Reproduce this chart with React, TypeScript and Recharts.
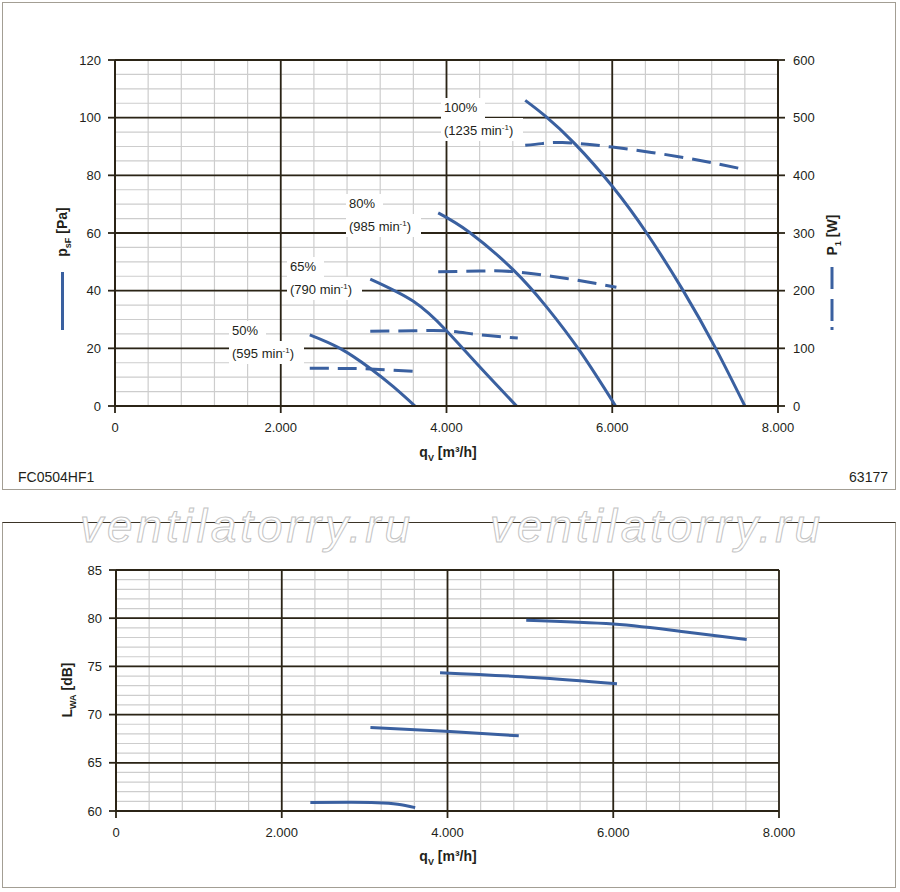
import React from "react";
import { ComposedChart, Line, XAxis, YAxis, ReferenceLine } from "recharts";

const FONT = "'Liberation Sans', Arial, Helvetica, sans-serif";
const CURVE = "#3a60a0";
const MAJOR = "#2b2416";
const MINOR = "#cdcdcd";
const TEXT = "#231f1a";

// x axis (volume flow, m³/h)
const FLOW_TICKS = [0, 2000, 4000, 6000, 8000];
const PRESSURE_TICKS = [0, 20, 40, 60, 80, 100, 120];
const POWER_TICKS = [0, 100, 200, 300, 400, 500, 600];
const SOUND_TICKS = [60, 65, 70, 75, 80, 85];

// static pressure psF [Pa]
const q100 = [4950, 5190, 5550, 6000, 6415, 6854, 7248, 7600];
const psf100 = [106, 100.6, 90.9, 76.2, 60, 40.1, 20, 0];
const q80 = [3900, 4280, 4806, 5209, 5611, 6040];
const psf80 = [67, 60.2, 47.2, 34.3, 19, 0];
const q65 = [3080, 3600, 4000, 4400, 4845];
const psf65 = [44, 36.3, 26.1, 13.6, 0];
const q50 = [2350, 2715, 3077, 3358, 3620];
const psf50 = [24.7, 20, 13.1, 6.7, 0];

// power input P1 [W]
const qp100 = [4950, 5150, 5400, 6000, 6900, 7600];
const p100 = [452, 455, 457, 449, 430, 410];
const qp80 = [3900, 4400, 4806, 5450, 6050];
const p80 = [233, 234, 233, 221, 206];
const qp65 = [3080, 3600, 4000, 4400, 4860];
const p65 = [129.5, 130.5, 130.4, 123.5, 118];
const qp50 = [2350, 2700, 3077, 3620];
const p50 = [65.4, 65.2, 64.2, 60];

// sound power LWA [dB]
const ql100 = [4950, 6000, 6850, 7610];
const lwa100 = [79.8, 79.4, 78.6, 77.8];
const ql80 = [3910, 5040, 6045];
const lwa80 = [74.35, 73.85, 73.2];
const ql65 = [3070, 4030, 4860];
const lwa65 = [68.65, 68.25, 67.8];
const ql50 = [2345, 2830, 3150, 3400, 3610];
const lwa50 = [60.87, 60.9, 60.86, 60.7, 60.35];

const SPEEDS = [
  { pct: "100%", rpm: "1235" },
  { pct: "80%", rpm: "985" },
  { pct: "65%", rpm: "790" },
  { pct: "50%", rpm: "595" },
];

const zip = (xs: number[], ys: number[]) => xs.map((q, i) => ({ q, v: ys[i] }));

const steps = (from: number, to: number, step: number) => {
  const out: number[] = [];
  for (let v = from; v <= to + 1e-9; v += step) out.push(v);
  return out;
};

const fmtFlow = (v: number) => (v === 0 ? "0" : (v / 1000).toFixed(3));

const tickStyle = { fontSize: 13, fill: TEXT, fontFamily: FONT };

const pressureSeries = [zip(q100, psf100), zip(q80, psf80), zip(q65, psf65), zip(q50, psf50)];
const powerSeries = [zip(qp100, p100), zip(qp80, p80), zip(qp65, p65), zip(qp50, p50)];
const soundSeries = [zip(ql100, lwa100), zip(ql80, lwa80), zip(ql65, lwa65), zip(ql50, lwa50)];

const tagPos = [
  { x: 441, y: 98 },
  { x: 346, y: 194 },
  { x: 287, y: 257 },
  { x: 229, y: 321 },
];

function Grid({ yId, yMinor, yMajor }: { yId: string; yMinor: number[]; yMajor: number[] }) {
  return (
    <>
      {steps(0, 8000, 400).map((x) => (
        <ReferenceLine key={"vx" + x} x={x} yAxisId={yId} stroke={MINOR} strokeWidth={1.2} />
      ))}
      {yMinor.map((y) => (
        <ReferenceLine key={"hy" + y} y={y} yAxisId={yId} stroke={MINOR} strokeWidth={1.2} />
      ))}
      {FLOW_TICKS.map((x) => (
        <ReferenceLine key={"VX" + x} x={x} yAxisId={yId} stroke={MAJOR} strokeWidth={1.8} />
      ))}
      {yMajor.map((y) => (
        <ReferenceLine key={"HY" + y} y={y} yAxisId={yId} stroke={MAJOR} strokeWidth={1.8} />
      ))}
    </>
  );
}

function FlowLabel({ top }: { top: number }) {
  return (
    <div
      style={{
        position: "absolute",
        left: 0,
        width: 900,
        top,
        textAlign: "center",
        fontWeight: "bold",
        fontSize: 14,
        color: TEXT,
      }}
    >
      <span style={{ marginLeft: -4 }}>
        q<sub style={{ fontSize: 9 }}>V</sub> [m³/h]
      </span>
    </div>
  );
}

function VerticalTitle({ cx, cy, children }: { cx: number; cy: number; children: React.ReactNode }) {
  return (
    <div
      style={{
        position: "absolute",
        left: cx - 60,
        top: cy - 10,
        width: 120,
        height: 20,
        lineHeight: "20px",
        textAlign: "center",
        transform: "rotate(-90deg)",
        fontWeight: "bold",
        fontSize: 14,
        color: TEXT,
        whiteSpace: "nowrap",
      }}
    >
      {children}
    </div>
  );
}

export default function App() {
  return (
    <div
      style={{
        position: "absolute",
        left: 0,
        top: 0,
        width: 900,
        height: 892,
        background: "#fff",
        fontFamily: FONT,
        overflow: "hidden",
      }}
    >
      {/* panel frames */}
      <div style={{ position: "absolute", left: 2, top: 2, width: 892, height: 486, border: "1.5px solid #a39e94" }} />
      <div
        style={{
          position: "absolute",
          left: 2,
          top: 522,
          width: 892,
          height: 364,
          border: "1.5px solid #a39e94",
          borderTop: "1.5px solid #3a3326",
        }}
      />

      {/* upper chart: pressure + power */}
      <div style={{ position: "absolute", left: 0, top: 0 }}>
        <ComposedChart width={900} height={490} margin={{ top: 60, left: 65, right: 72, bottom: 54 }}>
          <XAxis
            xAxisId={0}
            dataKey="q"
            type="number"
            domain={[0, 8000]}
            ticks={FLOW_TICKS}
            tickFormatter={fmtFlow}
            tick={tickStyle}
            tickSize={7}
            tickMargin={10}
            height={30}
            axisLine={{ stroke: MAJOR, strokeWidth: 2 }}
            tickLine={{ stroke: MAJOR, strokeWidth: 1.8 }}
            allowDataOverflow
          />
          <YAxis
            yAxisId="left"
            domain={[0, 120]}
            ticks={PRESSURE_TICKS}
            tick={tickStyle}
            tickSize={7}
            tickMargin={7}
            width={50}
            axisLine={{ stroke: MAJOR, strokeWidth: 2 }}
            tickLine={{ stroke: MAJOR, strokeWidth: 1.8 }}
            allowDataOverflow
          />
          <YAxis
            yAxisId="right"
            orientation="right"
            domain={[0, 600]}
            ticks={POWER_TICKS}
            tick={{ ...tickStyle, textAnchor: "start" }}
            tickSize={7}
            tickMargin={8}
            width={50}
            axisLine={{ stroke: MAJOR, strokeWidth: 2 }}
            tickLine={{ stroke: MAJOR, strokeWidth: 1.8 }}
            allowDataOverflow
          />
          {Grid({ yId: "left", yMinor: steps(0, 120, 5), yMajor: PRESSURE_TICKS })}
          {pressureSeries.map((d, i) => (
            <Line
              key={"ps" + i}
              data={d}
              dataKey="v"
              yAxisId="left"
              type="natural"
              stroke={CURVE}
              strokeWidth={3}
              dot={false}
              activeDot={false}
              isAnimationActive={false}
            />
          ))}
          {powerSeries.map((d, i) => (
            <Line
              key={"pw" + i}
              data={d}
              dataKey="v"
              yAxisId="right"
              type="natural"
              stroke={CURVE}
              strokeWidth={3}
              strokeDasharray="19 9"
              dot={false}
              activeDot={false}
              isAnimationActive={false}
            />
          ))}
        </ComposedChart>
      </div>

      {/* speed tags */}
      {SPEEDS.map((s, i) => (
        <div
          key={s.pct}
          style={{ position: "absolute", left: tagPos[i].x, top: tagPos[i].y, fontSize: 13, color: TEXT, lineHeight: "20px" }}
        >
          <div style={{ background: "#fff", display: "table", padding: "0 8px 0 3px" }}>{s.pct}</div>
          <div style={{ background: "#fff", display: "table", padding: "0 10px 0 3px" }}>
            ({s.rpm} min<sup style={{ fontSize: 8, verticalAlign: 5 }}>-1</sup>)
          </div>
        </div>
      ))}

      {/* axis titles upper */}
      <VerticalTitle cx={62} cy={232}>
        p<sub style={{ fontSize: 9 }}>sF</sub> [Pa]
      </VerticalTitle>
      <div style={{ position: "absolute", left: 61, top: 272, width: 3, height: 58, background: CURVE }} />
      <VerticalTitle cx={832} cy={235}>
        P<sub style={{ fontSize: 9 }}>1</sub> [W]
      </VerticalTitle>
      <svg style={{ position: "absolute", left: 826, top: 264, zIndex: 2 }} width={12} height={70}>
        <line x1={6} y1={3} x2={6} y2={25} stroke={CURVE} strokeWidth={3} />
        <line x1={6} y1={35} x2={6} y2={57} stroke={CURVE} strokeWidth={3} />
        <line x1={6} y1={63} x2={6} y2={66} stroke={CURVE} strokeWidth={3} />
      </svg>
      <FlowLabel top={444} />
      <div style={{ position: "absolute", left: 18, top: 469, fontSize: 14, color: TEXT }}>FC0504HF1</div>
      <div style={{ position: "absolute", right: 12, top: 469, fontSize: 14, color: TEXT }}>63177</div>

      {/* lower chart: sound power */}
      <div style={{ position: "absolute", left: 0, top: 522 }}>
        <ComposedChart width={900} height={366} margin={{ top: 48, left: 66, right: 121, bottom: 47 }}>
          <XAxis
            xAxisId={0}
            dataKey="q"
            type="number"
            domain={[0, 8000]}
            ticks={FLOW_TICKS}
            tickFormatter={fmtFlow}
            tick={tickStyle}
            tickSize={7}
            tickMargin={10}
            height={30}
            axisLine={{ stroke: MAJOR, strokeWidth: 2 }}
            tickLine={{ stroke: MAJOR, strokeWidth: 1.8 }}
            allowDataOverflow
          />
          <YAxis
            yAxisId="left"
            domain={[60, 85]}
            ticks={SOUND_TICKS}
            tick={tickStyle}
            tickSize={7}
            tickMargin={7}
            width={50}
            axisLine={{ stroke: MAJOR, strokeWidth: 2 }}
            tickLine={{ stroke: MAJOR, strokeWidth: 1.8 }}
            allowDataOverflow
          />
          {Grid({ yId: "left", yMinor: steps(60, 85, 1), yMajor: SOUND_TICKS })}
          {soundSeries.map((d, i) => (
            <Line
              key={"lw" + i}
              data={d}
              dataKey="v"
              yAxisId="left"
              type="natural"
              stroke={CURVE}
              strokeWidth={3}
              dot={false}
              activeDot={false}
              isAnimationActive={false}
            />
          ))}
        </ComposedChart>
      </div>
      <VerticalTitle cx={67} cy={690}>
        L<sub style={{ fontSize: 9 }}>WA</sub> [dB]
      </VerticalTitle>
      <FlowLabel top={848} />

      {/* watermark */}
      <svg style={{ position: "absolute", left: 0, top: 490 }} width={900} height={80}>
        {[80, 490].map((x) => (
          <text
            key={x}
            x={x}
            y={52}
            fontFamily={FONT}
            fontStyle="italic"
            fontSize={46}
            fill="#fff"
            stroke="#c4c4c4"
            strokeWidth={1}
            textLength={330}
          >
            ventilatorry.ru
          </text>
        ))}
      </svg>
    </div>
  );
}
